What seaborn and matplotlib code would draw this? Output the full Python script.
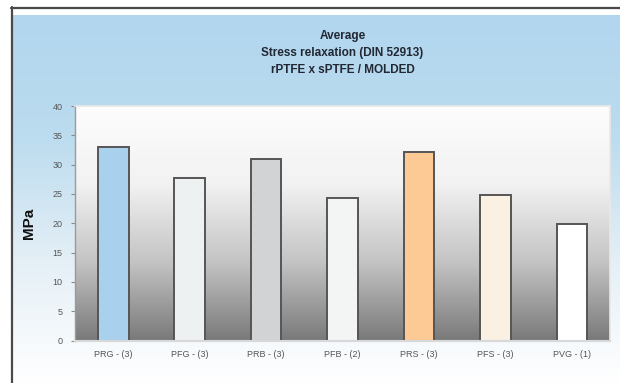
import numpy as np
import pandas as pd
import matplotlib
matplotlib.use("Agg")
import matplotlib.pyplot as plt
from matplotlib.colors import LinearSegmentedColormap
from matplotlib.lines import Line2D
import seaborn as sns

# Data
categories = ["PRG - (3)", "PFG - (3)", "PRB - (3)", "PFB - (2)", "PRS - (3)", "PFS - (3)", "PVG - (1)"]
values = [33.0, 27.8, 30.9, 24.3, 32.1, 24.9, 19.9]
bar_colors = ["#a9d0ec", "#eef1f1", "#d2d3d4", "#f3f4f4", "#fdc994", "#faf1e3", "#ffffff"]
title_lines = ["Average", "Stress relaxation (DIN 52913)", "rPTFE x sPTFE / MOLDED"]
y_ticks = [0, 5, 10, 15, 20, 25, 30, 35, 40]

df = pd.DataFrame({"sample": categories, "MPa": values})

sns.set_theme(style="white")
plt.rcParams["font.family"] = ["Liberation Sans", "DejaVu Sans"]

W, H = 620, 383
fig = plt.figure(figsize=(W / 100, H / 100), dpi=100)
fig.patch.set_facecolor("white")

# Page background: light blue fading to white
bg = fig.add_axes([13 / W, 0, 1 - 13 / W, 1 - 15 / H], zorder=-10)
bg_cmap = LinearSegmentedColormap.from_list("bg", ["#b1d6ee", "#bcdcef", "#e4eff6", "#ffffff"])
grad = np.linspace(0, 1, 256).reshape(-1, 1)
bg.imshow(grad, aspect="auto", cmap=bg_cmap, extent=[0, 1, 0, 1], origin="upper")
bg.set_axis_off()

# Frame lines at top and left
fig.add_artist(Line2D([11 / W, 1], [1 - 7.5 / H, 1 - 7.5 / H], color="#4a4a4a", lw=1.6, transform=fig.transFigure))
fig.add_artist(Line2D([11.5 / W, 11.5 / W], [0, 1 - 7 / H], color="#4a4a4a", lw=1.6, transform=fig.transFigure))

# Plot area
left, right, top, bottom = 75, 610, 106, 340.5
ax = fig.add_axes([left / W, 1 - bottom / H, (right - left) / W, (bottom - top) / H])

plot_cmap = LinearSegmentedColormap.from_list("plotbg", ["#fdfdfd", "#f2f2f2", "#c4c4c4", "#7a7a7a"])
ax.imshow(grad, aspect="auto", cmap=plot_cmap, extent=[-0.5, len(categories) - 0.5, 0, 40],
          origin="upper", zorder=0)

sns.barplot(data=df, x="sample", y="MPa", hue="sample", palette=bar_colors, legend=False,
            width=0.4, edgecolor="#555555", linewidth=1.4, saturation=1, ax=ax, zorder=2)

ax.set_xlim(-0.5, len(categories) - 0.5)
ax.set_ylim(0, 40)
ax.set_yticks(y_ticks)
ax.set_yticklabels([str(t) for t in y_ticks])
ax.tick_params(axis="y", length=3, width=0.8, color="#8a8a8a", labelsize=6.5, labelcolor="#555555", pad=6, left=True)
ax.tick_params(axis="x", length=0, labelsize=6.5, labelcolor="#555555", pad=7)
ax.set_xlabel("")
ax.set_ylabel("MPa", fontsize=11, fontweight="bold", color="#111111", labelpad=12)

for side in ["top", "right"]:
    ax.spines[side].set_color("#e8e8e8")
    ax.spines[side].set_linewidth(1.2)
ax.spines["left"].set_color("#9a9a9a")
ax.spines["left"].set_linewidth(1.0)
ax.spines["bottom"].set_color("#d8d8d8")
ax.spines["bottom"].set_linewidth(1.5)

# Three-line bold title
title_y = [36, 53, 70]
cx = (left + right) / 2 / W
for text, yy in zip(title_lines, title_y):
    fig.text(cx, 1 - yy / H, text, ha="center", va="center", fontsize=8.5,
             fontweight="bold", color="#222833")

fig.savefig("out.png", dpi=100, facecolor=fig.get_facecolor())
